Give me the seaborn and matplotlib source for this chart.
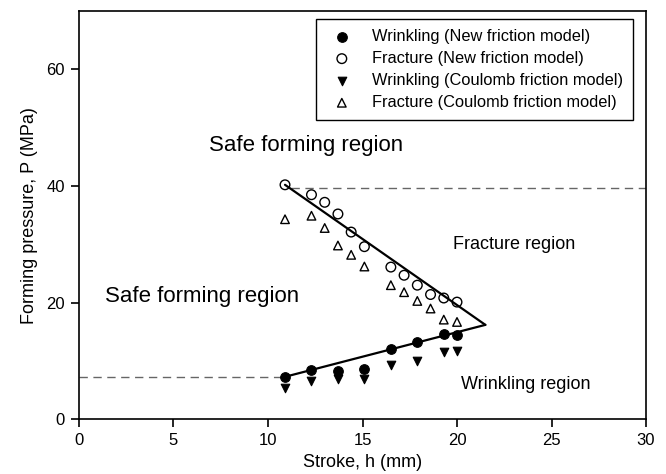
import matplotlib
matplotlib.use("Agg")
import matplotlib.pyplot as plt
import seaborn as sns

# Stroke positions (mm)
stroke_fracture = [10.9, 12.3, 13.0, 13.7, 14.4, 15.1, 16.5, 17.2, 17.9, 18.6, 19.3, 20.0]
stroke_wrinkle = [10.9, 12.3, 13.7, 15.1, 16.5, 17.9, 19.3, 20.0]

# Forming pressure (MPa)
wrinkle_new = [7.3, 8.4, 8.3, 8.6, 12.1, 13.2, 14.7, 14.4]
fracture_new = [40.2, 38.5, 37.2, 35.2, 32.1, 29.6, 26.1, 24.7, 23.0, 21.4, 20.8, 20.1]
wrinkle_coulomb = [5.3, 6.6, 7.0, 6.9, 9.3, 10.0, 11.5, 11.8]
fracture_coulomb = [34.3, 34.9, 32.8, 29.8, 28.2, 26.2, 23.0, 21.8, 20.3, 19.0, 17.1, 16.7]

# Forming-window boundaries
upper_limit_x = [10.9, 21.5]
upper_limit_y = [40.2, 16.2]
lower_limit_x = [10.9, 21.5]
lower_limit_y = [7.3, 16.2]
upper_dash_x = [11.2, 30.0]
upper_dash_y = [39.6, 39.6]
lower_dash_x = [0.0, 10.9]
lower_dash_y = [7.3, 7.3]

sns.set_theme(style="white")
plt.rcParams["font.family"] = ["Liberation Sans", "DejaVu Sans"]
plt.rcParams["text.color"] = "black"
plt.rcParams["axes.labelcolor"] = "black"
plt.rcParams["xtick.color"] = "black"
plt.rcParams["ytick.color"] = "black"

fig = plt.figure(figsize=(6.66, 4.74), dpi=100)
ax = fig.add_axes([0.1186, 0.1152, 0.8514, 0.8618])

ax.plot(upper_dash_x, upper_dash_y, ls=(0, (6, 4)), color="#666666", lw=1.0, zorder=1)
ax.plot(lower_dash_x, lower_dash_y, ls=(0, (6, 4)), color="#666666", lw=1.0, zorder=1)
ax.plot(upper_limit_x, upper_limit_y, color="black", lw=1.6, zorder=2)
ax.plot(lower_limit_x, lower_limit_y, color="black", lw=1.6, zorder=2)

sns.scatterplot(x=stroke_wrinkle, y=wrinkle_new, marker="o", s=48,
                color="black", edgecolor="black", linewidth=0.8,
                label="Wrinkling (New friction model)", ax=ax, zorder=3)
sns.scatterplot(x=stroke_fracture, y=fracture_new, marker="o", s=48,
                facecolor="none", edgecolor="black", linewidth=1.0,
                label="Fracture (New friction model)", ax=ax, zorder=3)
sns.scatterplot(x=stroke_wrinkle, y=wrinkle_coulomb, marker="v", s=38,
                color="black", edgecolor="black", linewidth=0.8,
                label="Wrinkling (Coulomb friction model)", ax=ax, zorder=3)
sns.scatterplot(x=stroke_fracture, y=fracture_coulomb, marker="^", s=38,
                facecolor="none", edgecolor="black", linewidth=1.0,
                label="Fracture (Coulomb friction model)", ax=ax, zorder=3)

ax.set_xlim(0, 30)
ax.set_ylim(0, 70)
ax.set_xticks([0, 5, 10, 15, 20, 25, 30])
ax.set_yticks([0, 20, 40, 60])
ax.tick_params(axis="both", which="major", direction="out", length=6, width=1.2,
               colors="black", labelsize=12, bottom=True, left=True, pad=4)
for sp in ax.spines.values():
    sp.set_color("black")
    sp.set_linewidth(1.2)

ax.set_xlabel("Stroke, h (mm)", fontsize=13, labelpad=4)
ax.set_ylabel("Forming pressure, P (MPa)", fontsize=13, labelpad=6)

ax.text(6.9, 46.9, "Safe forming region", fontsize=16, va="center", ha="left")
ax.text(1.4, 21.0, "Safe forming region", fontsize=16, va="center", ha="left")
ax.text(19.8, 30.0, "Fracture region", fontsize=13, va="center", ha="left")
ax.text(20.2, 5.9, "Wrinkling region", fontsize=13, va="center", ha="left")

leg = ax.legend(loc="upper right", bbox_to_anchor=(0.977, 0.980), fontsize=11.8,
                frameon=True, fancybox=False, edgecolor="black", framealpha=1,
                borderpad=0.6, labelspacing=0.43, handletextpad=0.85,
                handlelength=2.0, borderaxespad=0, markerscale=1.0)
leg.get_frame().set_linewidth(1.0)

fig.savefig("out.png", dpi=100)
